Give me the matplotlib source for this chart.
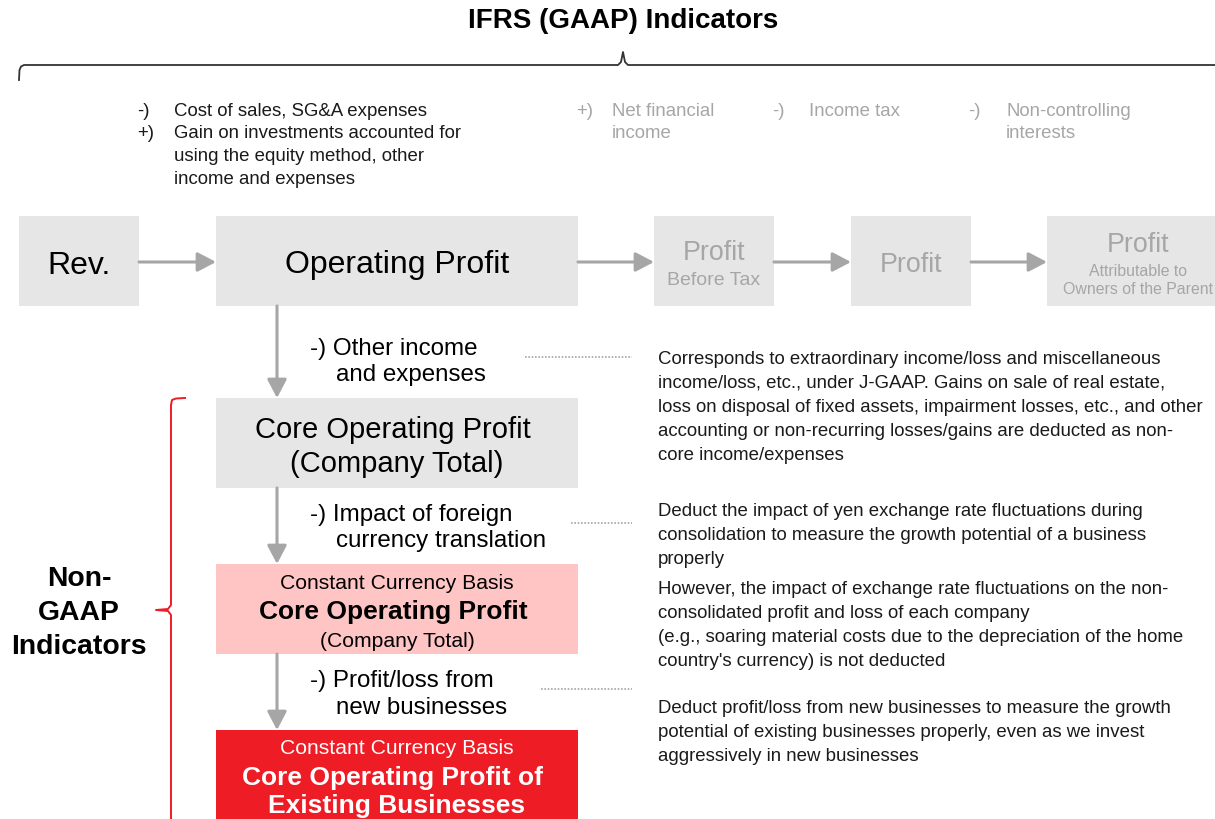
import matplotlib.pyplot as plt
from matplotlib.patches import Rectangle

plt.rcParams['font.family'] = ['Liberation Sans', 'DejaVu Sans']

# ---- text content ----
title = "IFRS (GAAP) Indicators"
side_label = ["Non-", "GAAP", "Indicators"]

top_signs = ["-)", "+)"]
top_items = ["Cost of sales, SG&A expenses",
             "Gain on investments accounted for",
             "using the equity method, other",
             "income and expenses"]
grey_signs = ["+)", "-)", "-)"]
grey_items = ["Net financial\nincome", "Income tax", "Non-controlling\ninterests"]

flow_main = ["Rev.", "Operating Profit"]
flow_grey = [("Profit", "Before Tax"), ("Profit", ""), ("Profit", "Attributable to\nOwners of the Parent")]

step_labels = [("-) Other income", "and expenses"),
               ("-) Impact of foreign", "currency translation"),
               ("-) Profit/loss from", "new businesses")]

notes = [
    ["Corresponds to extraordinary income/loss and miscellaneous",
     "income/loss, etc., under J-GAAP. Gains on sale of real estate,",
     "loss on disposal of fixed assets, impairment losses, etc., and other",
     "accounting or non-recurring losses/gains are deducted as non-",
     "core income/expenses"],
    ["Deduct the impact of yen exchange rate fluctuations during",
     "consolidation to measure the growth potential of a business",
     "properly"],
    ["However, the impact of exchange rate fluctuations on the non-",
     "consolidated profit and loss of each company",
     "(e.g., soaring material costs due to the depreciation of the home",
     "country's currency) is not deducted"],
    ["Deduct profit/loss from new businesses to measure the growth",
     "potential of existing businesses properly, even as we invest",
     "aggressively in new businesses"],
]

# ---- styles ----
box_grey = '#e6e6e6'
box_pink = '#ffc5c5'
box_red = '#ee1c25'
arrow_col = '#a6a6a6'
txt_grey = '#a6a6a6'
txt_dark = '#1a1a1a'
small_fs = 13.4
dy = 1.5  # small downward nudge for text

fig = plt.figure(figsize=(12.15, 8.19), dpi=100)
ax = fig.add_axes([0, 0, 1, 1])
ax.set_xlim(0, 1215)
ax.set_ylim(819, 0)
ax.axis('off')


def box(x0, x1, y0, y1, color):
    ax.add_patch(Rectangle((x0, y0), x1 - x0, y1 - y0, facecolor=color, edgecolor='none'))


def arrow(x0, y0, x1, y1):
    ax.annotate('', xy=(x1, y1), xytext=(x0, y0),
                arrowprops=dict(arrowstyle='-|>,head_length=0.8,head_width=0.42', color=arrow_col,
                                lw=2.2, mutation_scale=14, shrinkA=0, shrinkB=0))


def txt(x, y, s, **kw):
    ax.text(x, y + dy, s, va='center', **kw)


# title and brace
txt(623, 20, title, ha='center', fontsize=20, fontweight='bold', color='black')
bx = [19, 19.5, 21, 24, 618, 621, 623, 625, 628, 1215]
by = [80, 70, 66.5, 65, 65, 62, 52, 62, 65, 65]
ax.plot(bx, by, color='#333333', lw=1.3)

# top annotations
txt(137, 110, top_signs[0], fontsize=small_fs, color=txt_dark)
txt(137, 132, top_signs[1], fontsize=small_fs, color=txt_dark)
for i, t in enumerate(top_items):
    txt(174, 110 + i * 22.5, t, fontsize=small_fs, color=txt_dark)
for sx, tx, s, t in zip([576, 772, 968], [612, 809, 1006], grey_signs, grey_items):
    txt(sx, 110, s, fontsize=small_fs, color=txt_grey)
    for j, line in enumerate(t.split('\n')):
        txt(tx, 110 + j * 22, line, fontsize=small_fs, color=txt_grey)

# top flow row
box(19, 139, 216, 306, box_grey)
box(216, 578, 216, 306, box_grey)
txt(79, 264, flow_main[0], ha='center', fontsize=23, color='black')
txt(397, 264, flow_main[1], ha='center', fontsize=23, color='black')
arrow(139, 262, 216, 262)
arrow(578, 262, 654, 262)

grey_boxes = [(654, 774), (851, 971), (1047, 1235)]
for (x0, x1), (big, small) in zip(grey_boxes, flow_grey):
    box(x0, x1, 216, 306, box_grey)
    cx = (x0 + x1) / 2 if x1 < 1215 else 1138
    if small == "":
        txt(cx, 264, big, ha='center', fontsize=19.3, color=txt_grey)
    elif '\n' in small:
        txt(cx, 244, big, ha='center', fontsize=19.3, color=txt_grey)
        for j, line in enumerate(small.split('\n')):
            txt(cx, 270 + j * 18.5, line, ha='center', fontsize=11.4, color=txt_grey)
    else:
        txt(cx, 252, big, ha='center', fontsize=19.3, color=txt_grey)
        txt(cx, 279, small, ha='center', fontsize=14, color=txt_grey)
arrow(774, 262, 851, 262)
arrow(971, 262, 1047, 262)

# vertical chain
box(216, 578, 398, 488, box_grey)
box(216, 578, 564, 654, box_pink)
box(216, 578, 730, 830, box_red)
arrow(277, 306, 277, 398)
arrow(277, 488, 277, 564)
arrow(277, 654, 277, 730)

txt(393, 428, "Core Operating Profit", ha='center', fontsize=21, color='black')
txt(397, 463, "(Company Total)", ha='center', fontsize=21, color='black')

txt(397, 582, "Constant Currency Basis", ha='center', fontsize=15.2, color='black')
txt(393, 610, "Core Operating Profit", ha='center', fontsize=19, fontweight='bold', color='black')
txt(397, 640, "(Company Total)", ha='center', fontsize=15.2, color='black')

txt(397, 747, "Constant Currency Basis", ha='center', fontsize=15.2, color='white')
txt(393, 776, "Core Operating Profit of", ha='center', fontsize=19, fontweight='bold', color='white')
txt(397, 805, "Existing Businesses", ha='center', fontsize=19, fontweight='bold', color='white')

# step labels with dotted leaders
step_y = [347, 513, 679]
dot_x0 = [525, 571, 541]
for (l1, l2), y, dx0 in zip(step_labels, step_y, dot_x0):
    txt(310, y, l1, fontsize=17.4, color='black')
    txt(336, y + 27, l2, fontsize=17.4, color='black')
    ax.plot([dx0, 632], [y + 10, y + 10], color=arrow_col, lw=1.2, ls=(0, (1, 1)))

# notes
note_y = [358, 510, 588, 707]
for lines, y0 in zip(notes, note_y):
    for j, line in enumerate(lines):
        txt(658, y0 + j * 24, line, fontsize=small_fs, color=txt_dark)

# red bracket and side label
rx = [185, 176, 172, 171, 171, 168, 156, 168, 171, 171]
ry = [398, 398.5, 400, 405, 605, 609, 610, 611, 615, 830]
ax.plot(rx, ry, color='#ee1c25', lw=1.4)
for j, line in enumerate(side_label):
    txt(79, 578 + j * 33.5, line, ha='center', fontsize=20.4, fontweight='bold', color='black')

fig.savefig('out.png', dpi=100)
